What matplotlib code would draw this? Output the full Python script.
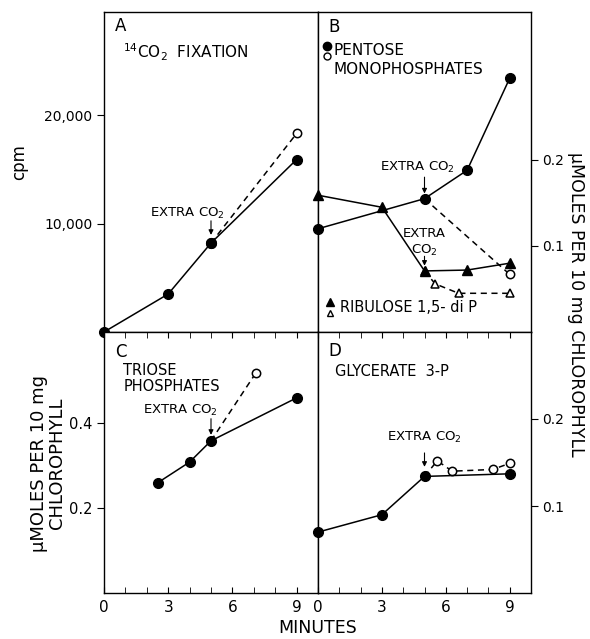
import numpy as np
import matplotlib
matplotlib.use("Agg")
import matplotlib.pyplot as plt

plt.rcParams['font.family'] = ['DejaVu Sans']
plt.rcParams['mathtext.default'] = 'regular'

# panel A: 14CO2 fixation (cpm)
a_t = [0, 3, 5, 9]
a_cpm = [0, 3500, 8200, 15900]
a_extra_t = [5, 9]
a_extra_cpm = [8200, 18300]

# panel B: pentose monophosphates and ribulose 1,5-diP
b_pent_t = [0, 5, 7, 9]
b_pent = [0.120, 0.155, 0.188, 0.295]
b_pent_x_t = [5, 9]
b_pent_x = [0.155, 0.067]
b_rib_t = [0, 3, 5, 7, 9]
b_rib = [0.159, 0.145, 0.071, 0.072, 0.080]
b_rib_x_t = [5, 5.5, 6.6, 9]
b_rib_x = [0.071, 0.056, 0.045, 0.045]

# panel C: triose phosphates
c_t = [2.5, 4, 5, 9]
c_val = [0.259, 0.308, 0.358, 0.459]
c_x_t = [5, 7.1]
c_x = [0.358, 0.518]

# panel D: glycerate 3-P
d_t = [0, 3, 5, 9]
d_val = [0.070, 0.090, 0.134, 0.137]
d_x_t = [5, 5.6, 6.3, 8.2, 9]
d_x = [0.134, 0.152, 0.140, 0.142, 0.149]

fig = plt.figure(figsize=(5.9, 6.39), dpi=100)
L, M, R = 104/590, 318/590, 531/590
T, H, B = 1-12/639, 1-332/639, 1-593/639
axA = fig.add_axes([L, H, M-L, T-H])
axB = fig.add_axes([M, H, R-M, T-H])
axC = fig.add_axes([L, B, M-L, H-B])
axD = fig.add_axes([M, B, R-M, H-B])

lw = 1.1
fill = dict(color='k', marker='o', ms=7, lw=lw, clip_on=False, zorder=3)
opn = dict(color='k', marker='o', ms=6, mfc='white', mew=1.1, lw=lw, ls=(0, (4, 3)),
           clip_on=False, zorder=2)

def arrow(ax, x, y0, y1):
    ax.annotate('', xy=(x, y1), xytext=(x, y0),
                arrowprops=dict(arrowstyle='-|>', lw=0.8, color='k', mutation_scale=7,
                                shrinkA=0, shrinkB=0))

for ax in (axA, axB, axC, axD):
    ax.set_xlim(0, 10)
    for s in ax.spines.values():
        s.set_linewidth(1.0)

# A
axA.set_ylim(0, 29500)
axA.plot(a_extra_t, a_extra_cpm, **opn)
axA.plot(a_extra_t[:1], a_extra_cpm[:1], **fill)
axA.plot(a_t, a_cpm, **fill)
axA.set_xticks([])
axA.set_yticks([10000, 20000])
axA.set_yticklabels(['10,000', '20,000'])
axA.tick_params(axis='y', direction='out', length=5, labelsize=10)
axA.text(0.05, 0.955, 'A', transform=axA.transAxes, fontsize=12, va='center')
axA.text(0.09, 0.875, r'$^{14}$CO$_2$  FIXATION', transform=axA.transAxes,
         fontsize=11, va='center')
axA.text(3.9, 10900, 'EXTRA CO$_2$', fontsize=9.5, ha='center', va='center')
arrow(axA, 5, 10250, 8950)
fig.text(0.032, 0.746, 'cpm', rotation=90, fontsize=12, ha='center', va='center')

# B
axB.set_ylim(0, 0.372)
axB.plot(b_pent_x_t, b_pent_x, **opn)
axB.plot(b_pent_t, b_pent, **fill)
axB.plot(b_rib_x_t, b_rib_x, **dict(opn, marker='^'))
axB.plot(b_rib_t, b_rib, **dict(fill, marker='^'))
axB.set_xticks([])
axB.yaxis.tick_right()
axB.set_yticks([0.1, 0.2])
axB.set_yticklabels(['0.1', '0.2'])
axB.tick_params(axis='y', direction='out', length=5, labelsize=10, pad=3)
axB.text(0.047, 0.953, 'B', transform=axB.transAxes, fontsize=12, va='center')
axB.plot([0.042], [0.893], 'ko', ms=6, transform=axB.transAxes, clip_on=False)
axB.plot([0.042], [0.862], 'o', color='k', mfc='white', ms=5, mew=1,
         transform=axB.transAxes, clip_on=False)
axB.text(0.075, 0.88, 'PENTOSE', transform=axB.transAxes, fontsize=11, va='center')
axB.text(0.075, 0.82, 'MONOPHOSPHATES', transform=axB.transAxes, fontsize=11, va='center')
axB.text(4.65, 0.191, 'EXTRA CO$_2$', fontsize=9.5, ha='center', va='center')
arrow(axB, 5, 0.180, 0.161)
axB.text(5.0, 0.115, 'EXTRA', fontsize=9.5, ha='center', va='center')
axB.text(5.0, 0.095, 'CO$_2$', fontsize=9.5, ha='center', va='center')
arrow(axB, 5, 0.088, 0.077)
axB.plot([0.056], [0.094], 'k^', ms=6, transform=axB.transAxes, clip_on=False)
axB.plot([0.056], [0.059], '^', color='k', mfc='white', ms=5, mew=1,
         transform=axB.transAxes, clip_on=False)
axB.text(0.103, 0.075, 'RIBULOSE 1,5- di P', transform=axB.transAxes,
         fontsize=10.5, va='center')

# C
axC.set_ylim(0, 0.614)
axC.plot(c_x_t, c_x, **opn)
axC.plot(c_t, c_val, **fill)
axC.set_yticks([0.2, 0.4])
axC.set_yticklabels(['0.2', '0.4'])
axC.tick_params(axis='y', direction='out', length=5, labelsize=10.5)
axC.text(0.05, 0.923, 'C', transform=axC.transAxes, fontsize=12, va='center')
axC.text(0.09, 0.854, 'TRIOSE', transform=axC.transAxes, fontsize=10.5, va='center')
axC.text(0.09, 0.793, 'PHOSPHATES', transform=axC.transAxes, fontsize=10.5, va='center')
axC.text(3.57, 0.43, 'EXTRA CO$_2$', fontsize=9.5, ha='center', va='center')
arrow(axC, 5, 0.41, 0.372)
fig.text(0.081, 0.275, 'μMOLES PER 10 mg\nCHLOROPHYLL', rotation=90, fontsize=13,
         ha='center', va='center', linespacing=1.0)

# D
axD.set_ylim(0, 0.30)
axD.plot(d_x_t, d_x, **opn)
axD.plot(d_t, d_val, **fill)
axD.yaxis.tick_right()
axD.set_yticks([0.1, 0.2])
axD.set_yticklabels(['0.1', '0.2'])
axD.tick_params(axis='y', direction='out', length=5, labelsize=10, pad=3)
axD.text(0.047, 0.927, 'D', transform=axD.transAxes, fontsize=12, va='center')
axD.text(0.08, 0.85, 'GLYCERATE  3-P', transform=axD.transAxes, fontsize=10.5, va='center')
axD.text(5.0, 0.179, 'EXTRA CO$_2$', fontsize=9.5, ha='center', va='center')
arrow(axD, 5, 0.161, 0.145)

for ax in (axC, axD):
    ax.set_xticks([0, 3, 6, 9])
    ax.set_xticklabels(['0', '3', '6', '9'])
    ax.set_xticks(np.arange(0, 11, 1), minor=True)
    ax.tick_params(axis='x', which='both', direction='in', top=True, bottom=True,
                   length=4, labelsize=11, pad=5)

fig.text(0.977, 0.523, 'μMOLES PER 10 mg CHLOROPHYLL', rotation=270, fontsize=12.5,
         ha='center', va='center')
fig.text(M, 1-628/639, 'MINUTES', fontsize=12.5, ha='center', va='center')

fig.savefig('out.png', dpi=100)
